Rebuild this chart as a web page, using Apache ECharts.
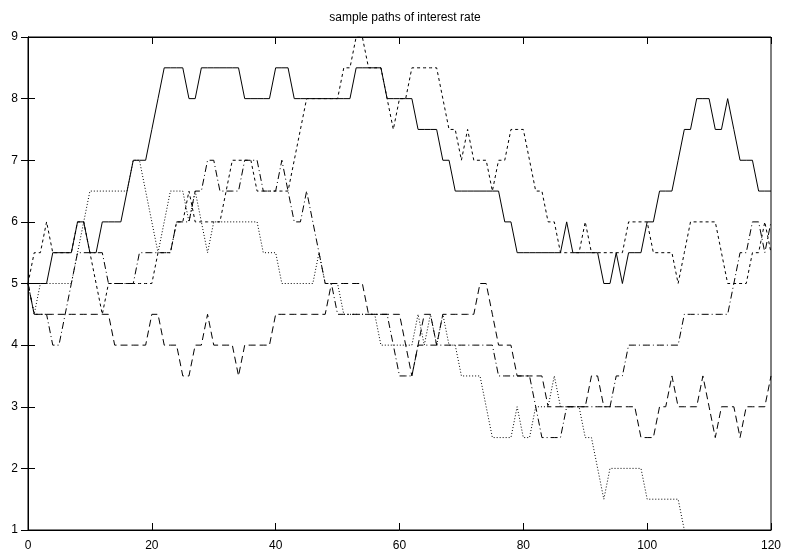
<!DOCTYPE html>
<html>
<head>
<meta charset="utf-8">
<script src="https://cdn.jsdelivr.net/npm/echarts@6/dist/echarts.min.js"></script>
<style>html,body{margin:0;padding:0;background:#fff}#c{width:789px;height:554px}</style>
</head>
<body>
<div id="c"></div>
<script>
// time steps 0..120 (index = step)
const xTicks = [0, 20, 40, 60, 80, 100, 120];
const yTicks = [1, 2, 3, 4, 5, 6, 7, 8, 9];

const pathSolid = [5,5,5,5,5.5,5.5,5.5,5.5,6,6,
 5.5,5.5,6,6,6,6,6.5,7,7,7,
 7.5,8,8.5,8.5,8.5,8.5,8,8,8.5,8.5,
 8.5,8.5,8.5,8.5,8.5,8,8,8,8,8,
 8.5,8.5,8.5,8,8,8,8,8,8,8,
 8,8,8,8.5,8.5,8.5,8.5,8.5,8,8,
 8,8,8,7.5,7.5,7.5,7.5,7,7,6.5,
 6.5,6.5,6.5,6.5,6.5,6.5,6.5,6,6,5.5,
 5.5,5.5,5.5,5.5,5.5,5.5,5.5,6,5.5,5.5,
 5.5,5.5,5.5,5,5,5.5,5,5.5,5.5,5.5,
 6,6,6.5,6.5,6.5,7,7.5,7.5,8,8,
 8,7.5,7.5,8,7.5,7,7,7,6.5,6.5,
 6.5];

const pathShortDash = [5,5.5,5.5,6,5.5,5.5,5.5,5.5,6,6,
 5.5,5,4.5,5,5,5,5,5,5,5,
 5,5.5,5.5,5.5,6,6,6.5,6,6,6,
 6,6,6.5,7,7,7,7,6.5,6.5,6.5,
 6.5,6.5,6.5,7,7.5,8,8,8,8,8,
 8,8.5,8.5,9,9,8.5,8.5,8.5,8,7.5,
 8,8,8.5,8.5,8.5,8.5,8.5,8,7.5,7.5,
 7,7.5,7,7,7,6.5,7,7,7.5,7.5,
 7.5,7,6.5,6.5,6,6,5.5,5.5,5.5,5.5,
 6,5.5,5.5,5.5,5.5,5.5,5.5,6,6,6,
 6,5.5,5.5,5.5,5.5,5,5.5,6,6,6,
 6,6,5.5,5,5,5,5,5.5,5.5,6,
 5.5];

const pathLongDash = [5,4.5,4.5,4.5,4.5,4.5,4.5,4.5,4.5,4.5,
 4.5,4.5,4.5,4.5,4,4,4,4,4,4,
 4.5,4.5,4,4,4,3.5,3.5,4,4,4.5,
 4,4,4,4,3.5,4,4,4,4,4,
 4.5,4.5,4.5,4.5,4.5,4.5,4.5,4.5,4.5,5,
 5,5,5,5,5,4.5,4.5,4.5,4.5,4.5,
 4.5,4,3.5,4,4.5,4.5,4,4.5,4.5,4.5,
 4.5,4.5,4.5,5,5,4.5,4,4,4,3.5,
 3.5,3.5,3.5,3.5,3,3,3,3,3,3,
 3,3.5,3.5,3,3,3,3,3,3,2.5,
 2.5,2.5,3,3,3.5,3,3,3,3,3.5,
 3,2.5,3,3,3,2.5,3,3,3,3,
 3.5];

const pathDotted = [5,4.5,5,5,5,5,5,5,5.5,6,
 6.5,6.5,6.5,6.5,6.5,6.5,6.5,7,7,6.5,
 6,5.5,6,6.5,6.5,6.5,6,6.5,6,5.5,
 6,6,6,6,6,6,6,6,5.5,5.5,
 5.5,5,5,5,5,5,5,5.5,5,5,
 5,4.5,4.5,4.5,4.5,4.5,4.5,4,4,4,
 4,4,4,4.5,4,4.5,4,4.5,4,4,
 3.5,3.5,3.5,3.5,3,2.5,2.5,2.5,2.5,3,
 2.5,2.5,3,3,3,3.5,3,3,3,3,
 2.5,2.5,2,1.5,2,2,2,2,2,2,
 1.5,1.5,1.5,1.5,1.5,1.5,1,null,null,null,
 null,null,null,null,null,null,null,null,null,null,
 null];

const pathDashDot = [5,4.5,4.5,4.5,4,4,4.5,5,5.5,5.5,
 5.5,5.5,5.5,5,5,5,5,5,5.5,5.5,
 5.5,5.5,5.5,5.5,6,6,6,6.5,6.5,7,
 7,6.5,6.5,6.5,6.5,7,7,7,6.5,6.5,
 6.5,7,6.5,6,6,6.5,6,5.5,5,5,
 4.5,4.5,4.5,4.5,4.5,4.5,4.5,4.5,4.5,4,
 3.5,3.5,3.5,4,4,4,4,4,4,4,
 4,4,4,4,4,4,3.5,3.5,3.5,3.5,
 3.5,3.5,3,2.5,2.5,2.5,2.5,3,3,3,
 3,3,3,3,3,3.5,3.5,4,4,4,
 4,4,4,4,4,4,4.5,4.5,4.5,4.5,
 4.5,4.5,4.5,4.5,5,5.5,5.5,6,6,5.5,
 6];

const toPts = arr => arr.map((v, i) => [i, v]);
const FONT = 'Liberation Sans, Arial, sans-serif';

function mkSeries(name, arr, dash) {
  return {
    name: name, type: 'line', data: toPts(arr), showSymbol: false, symbol: 'none',
    connectNulls: false, clip: true, animation: false,
    lineStyle: { color: '#000', width: 1, type: dash },
    emphasis: { disabled: true }
  };
}

const axisCommon = {
  axisLine: { show: true, lineStyle: { color: '#000', width: 1 } },
  axisTick: { show: true, inside: true, length: 7, lineStyle: { color: '#000' } },
  splitLine: { show: false }
};

const chart = echarts.init(document.getElementById('c'), null, { renderer: 'canvas' });
chart.setOption({
  animation: false,
  backgroundColor: '#fff',
  title: {
    text: 'sample paths of interest rate', left: 400, top: 7, textAlign: 'center',
    textStyle: { fontFamily: FONT, fontSize: 12, fontWeight: 'normal', color: '#000' }
  },
  grid: { left: 28, right: 18, top: 37, bottom: 24, show: true, borderColor: '#000', borderWidth: 1 },
  xAxis: [
    Object.assign({ type: 'value', min: xTicks[0], max: xTicks[xTicks.length - 1], interval: 20, position: 'bottom',
      axisLabel: { color: '#000', fontSize: 12, fontFamily: FONT, margin: 10 } }, axisCommon),
    Object.assign({ type: 'value', min: xTicks[0], max: xTicks[xTicks.length - 1], interval: 20, position: 'top',
      axisLabel: { show: false } }, axisCommon)
  ],
  yAxis: [
    Object.assign({ type: 'value', min: yTicks[0], max: yTicks[yTicks.length - 1], interval: 1, position: 'left',
      axisLabel: { color: '#000', fontSize: 12, fontFamily: FONT, margin: 10 } }, axisCommon),
    Object.assign({ type: 'value', min: yTicks[0], max: yTicks[yTicks.length - 1], interval: 1, position: 'right',
      axisLabel: { show: false } }, axisCommon)
  ],
  series: [
    mkSeries('path 1', pathSolid, 'solid'),
    mkSeries('path 2', pathShortDash, [3, 3]),
    mkSeries('path 3', pathLongDash, [7, 4]),
    mkSeries('path 4', pathDotted, [1, 2]),
    mkSeries('path 5', pathDashDot, [7, 3, 1, 3])
  ]
});
</script>
</body>
</html>
